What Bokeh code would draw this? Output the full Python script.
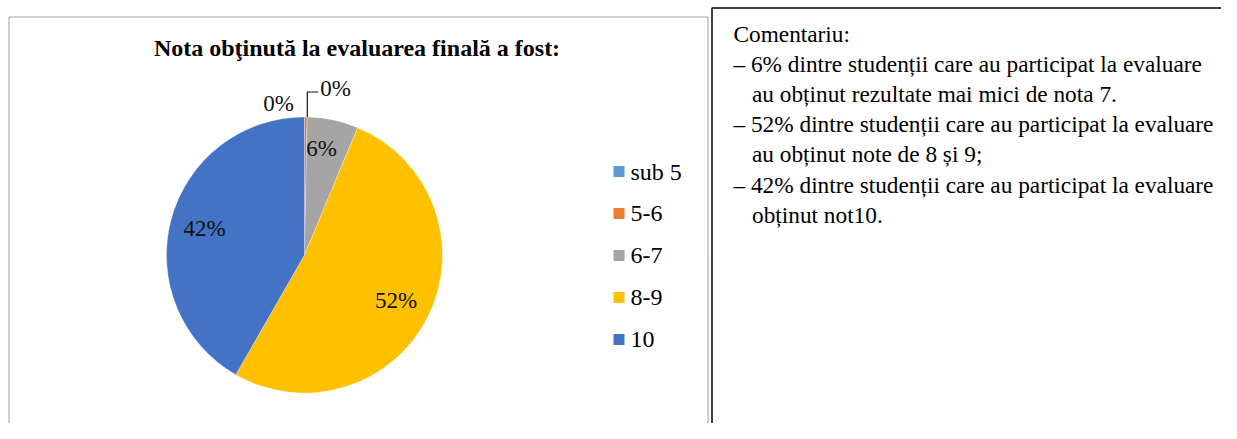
import numpy as np
from bokeh.plotting import figure
from bokeh.models import ColumnDataSource, Range1d
from bokeh.core.properties import value
from bokeh.embed import file_html
from bokeh.resources import INLINE

# ---------------- data ----------------
categories = ["sub 5", "5-6", "6-7", "8-9", "10"]
percent_values = [0.0, 0.3, 6.0, 52.0, 41.7]
percent_labels = ["0%", "0%", "6%", "52%", "42%"]
colors = ["#5b9bd5", "#ed7d31", "#a5a5a5", "#ffc000", "#4472c4"]
title_text = "Nota obţinută la evaluarea finală a fost:"
comment_lines = [
    "Comentariu:",
    "– 6% dintre studenții care au participat la evaluare",
    "au obținut rezultate mai mici de nota 7.",
    "– 52% dintre studenții care au participat la evaluare",
    "au obținut note de 8 și 9;",
    "– 42% dintre studenții care au participat la evaluare",
    "obținut not10.",
]
comment_indent = [0, 0, 1, 0, 1, 0, 1]

# ---------------- layout ----------------
W, H = 1221, 423
SERIF = value("Liberation Serif")


def Y(fy):
    return H - fy


p = figure(width=W, height=H, x_range=Range1d(0, W), y_range=Range1d(0, H),
           output_backend="svg", toolbar_location=None, min_border=0,
           x_axis_type=None, y_axis_type=None)
p.grid.visible = False
p.outline_line_color = None
p.background_fill_color = "white"

# chart frame (grey) and comment frame (black)
p.line([8.5, 8.5, 707.5, 707.5], [Y(H + 5), Y(16.5), Y(16.5), Y(H + 5)],
       line_color="#a0a0a0", line_width=1)
p.line([711.5, 711.5, W + 5], [Y(H + 5), Y(7.5), Y(7.5)],
       line_color="black", line_width=1.5)

# ---------------- pie ----------------
vals = np.array(percent_values, dtype=float)
frac = vals / vals.sum()
cum_end = np.cumsum(frac)
cum_start = cum_end - frac
start = np.pi / 2 - cum_start * 2 * np.pi
end = np.pi / 2 - cum_end * 2 * np.pi
mid = (start + end) / 2

cx, cy, R = 304.0, Y(254.5), 138.0
mask = vals > 0
src = ColumnDataSource(dict(
    start=start[mask], end=end[mask], color=[c for c, m in zip(colors, mask) if m],
    x=[cx] * int(mask.sum()), y=[cy] * int(mask.sum())))
p.wedge(x="x", y="y", radius=R, start_angle="start", end_angle="end",
        direction="clock", fill_color="color", line_color="white", line_width=0.3,
        source=src)

# data labels (inside the larger slices, outside for the empty one)
label_r = [1.1, None, 0.785, 0.74, 0.75]
label_da = [0.0, 0.0, 0.05, 0.0, 0.0]  # small angular nudge (radians)
lx, ly, lt = [], [], []
for i, t in enumerate(percent_labels):
    if label_r[i] is None:
        continue
    if i == 0:
        lx.append(cx - 26); ly.append(cy + R * label_r[i])
    else:
        a = mid[i] + label_da[i]
        lx.append(cx + R * label_r[i] * np.cos(a))
        ly.append(cy + R * label_r[i] * np.sin(a))
    lt.append(t)
p.text(x=lx, y=ly, text=lt, text_font=SERIF, text_font_size="23px",
       text_align="center", text_baseline="middle", text_color="#111111")

# leader line for 5-6 label
top_x = cx + 1.5 + R * np.cos(mid[1])
top_y = cy + R * np.sin(mid[1])
p.line([top_x, top_x, top_x + 11], [top_y, top_y + 25, top_y + 25],
       line_color="#111111", line_width=1.2)
p.text(x=[top_x + 13], y=[top_y + 29], text=[percent_labels[1]], text_font=SERIF,
       text_font_size="23px", text_align="left", text_baseline="middle",
       text_color="#111111")

# title
p.text(x=[356.5], y=[Y(47)], text=[title_text], text_font=SERIF,
       text_font_size="24px", text_font_style="bold", text_align="center",
       text_baseline="middle", text_color="black")

# legend
leg_y = [Y(171 + 42 * i) for i in range(len(categories))]
p.rect(x=[618.5] * len(categories), y=leg_y, width=11, height=11, fill_color=colors,
       line_color=None)
p.text(x=[630] * len(categories), y=leg_y, text=categories, text_font=SERIF,
       text_font_size="24px", text_align="left", text_baseline="middle",
       text_color="black")

# commentary
cxs = [733 + 18.5 * k for k in comment_indent]
cys = [Y(33 + 30.2 * i) for i in range(len(comment_lines))]
p.text(x=cxs, y=cys, text=comment_lines, text_font=SERIF, text_font_size="23.3px",
       text_align="left", text_baseline="middle", text_color="black")

open("out.html", "w").write(file_html(p, INLINE))
